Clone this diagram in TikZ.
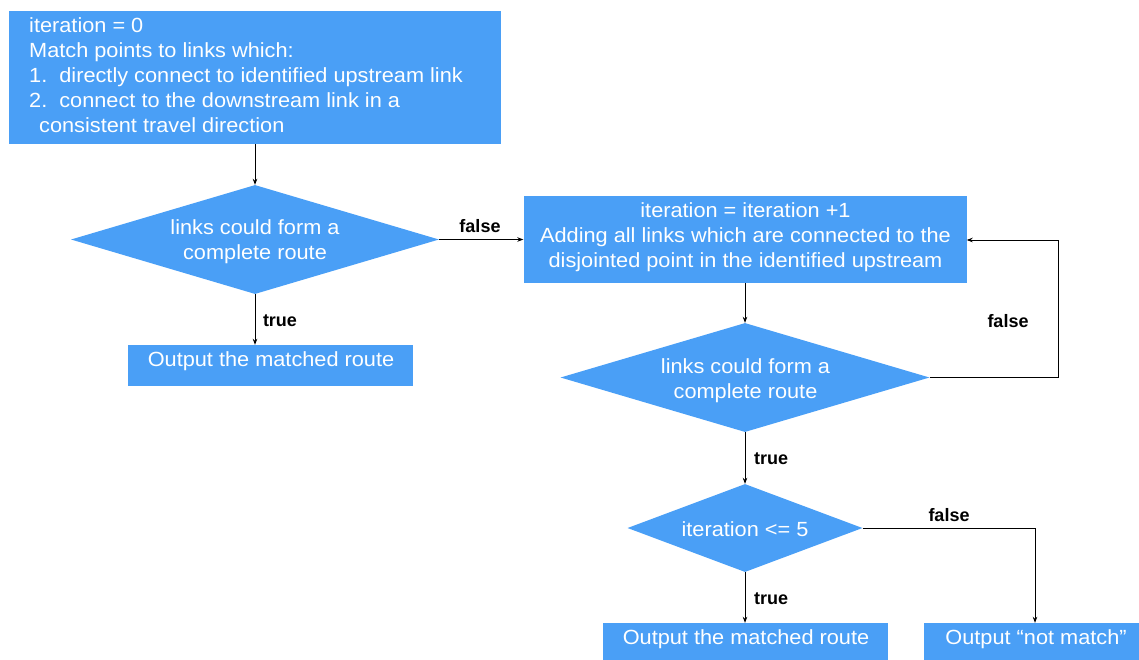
\documentclass[tikz,border=0pt]{standalone}
\usepackage{fontspec}
\setmainfont{Liberation Sans}
\newfontfamily\wideface[FakeStretch=1.06]{Liberation Sans}
\usetikzlibrary{shapes.geometric,arrows.meta}
\definecolor{flowblue}{RGB}{74,159,246}
\begin{document}
\begin{tikzpicture}[x=1pt,y=-1pt,
  proc/.style={rectangle,fill=flowblue,inner sep=0pt},
  decide/.style={diamond,fill=flowblue,inner sep=0pt},
  words/.style={text=white,inner sep=0pt,
    font=\wideface\fontsize{20.5}{25}\selectfont,align=center},
  flow/.style={line width=0.8pt,-{Stealth[length=6pt,width=4.5pt]}},
  tag/.style={font=\fontsize{18}{20}\bfseries\selectfont,text=black,inner sep=0pt}]
\clip (0,0) rectangle (1139,659);

% shapes
\node[proc,minimum width=492,minimum height=133] (init) at (255,77.5) {};
\node[decide,minimum width=368,minimum height=109,aspect=3.4] (d1) at (255,239.5) {};
\node[proc,minimum width=285,minimum height=41] (out1) at (270.5,365.5) {};
\node[proc,minimum width=443,minimum height=87] (grow) at (745,239.5) {};
\node[decide,minimum width=369,minimum height=109,aspect=3.4] (d2) at (745,377.5) {};
\node[decide,minimum width=235,minimum height=88,aspect=2.7] (d3) at (745,528) {};
\node[proc,minimum width=285,minimum height=41] (out2) at (745.5,643.5) {};
\node[proc,minimum width=224,minimum height=41] (out3) at (1036,643.5) {};

% texts inside the shapes
\node[words,anchor=north west,align=left] (initT) at (29,17.5)
  {iteration = 0\\Match points to links which:\\1.\ \ directly connect to identified upstream link\\2.\ \ connect to the downstream link in a\\\hspace*{10pt}consistent travel direction};
\node[words] (d1T) at (255,242) {links could form a\\complete route};
\node[words] (out1T) at (271,361) {Output the matched route};
\node[words] (growT) at (745.5,237.5)
  {iteration = iteration +1\\Adding all links which are connected to the\\disjointed point in the identified upstream};
\node[words] (d2T) at (745.5,380.5) {links could form a\\complete route};
\node[words] (d3T) at (745,529) {iteration <= 5};
\node[words] (out2T) at (746,639) {Output the matched route};
\node[words] (out3T) at (1036,639) {Output “not match”};

% connectors
\coordinate (loopA) at (1058,377.5);
\coordinate (loopB) at (1058,240);
\coordinate (falseC) at (1035,528);
\draw[flow] (init.south) -- (d1.north);
\draw[flow] (d1.south) -- (out1.north -| d1.south);
\draw[flow] (d1.east) -- (d1.east -| grow.west);
\draw[flow] (grow.south) -- (d2.north);
\draw[flow] (d2.east) -- (loopA) -- (loopB) -- (loopB -| grow.east);
\draw[flow] (d2.south) -- (d3.north);
\draw[flow] (d3.south) -- (out2.north -| d3.south);
\draw[flow] (d3.east) -- (falseC) -- (falseC |- out3.north);

% branch labels
\node[tag] (f1) at (480,226) {false};
\node[tag] (t1) at (280,321) {true};
\node[tag] (f2) at (1008,321) {false};
\node[tag] (t2) at (771,459) {true};
\node[tag] (f3) at (949,515) {false};
\node[tag] (t3) at (771,599) {true};
\end{tikzpicture}
\end{document}
